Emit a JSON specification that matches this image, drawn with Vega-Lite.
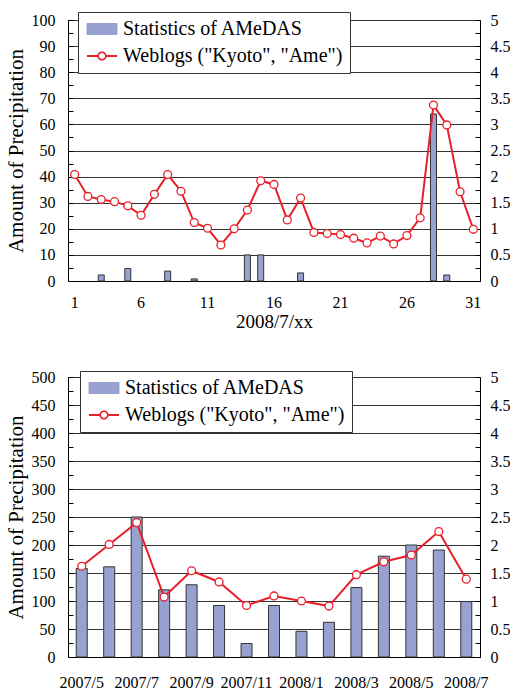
{
  "$schema": "https://vega.github.io/schema/vega-lite/v6.json",
  "padding": {"left": 5, "top": 11, "right": 0, "bottom": 0},
  "datasets": {
    "daily": [
      {"day": 1, "precip": null, "weblog": 2.04},
      {"day": 2, "precip": null, "weblog": 1.62},
      {"day": 3, "precip": 2.3, "weblog": 1.56},
      {"day": 4, "precip": null, "weblog": 1.52},
      {"day": 5, "precip": 4.8, "weblog": 1.44},
      {"day": 6, "precip": null, "weblog": 1.26},
      {"day": 7, "precip": null, "weblog": 1.66},
      {"day": 8, "precip": 3.8, "weblog": 2.04},
      {"day": 9, "precip": null, "weblog": 1.72},
      {"day": 10, "precip": 0.8, "weblog": 1.12},
      {"day": 11, "precip": null, "weblog": 1.01},
      {"day": 12, "precip": null, "weblog": 0.69},
      {"day": 13, "precip": null, "weblog": 1.0},
      {"day": 14, "precip": 10, "weblog": 1.36},
      {"day": 15, "precip": 10, "weblog": 1.92},
      {"day": 16, "precip": null, "weblog": 1.85},
      {"day": 17, "precip": null, "weblog": 1.17},
      {"day": 18, "precip": 3.1, "weblog": 1.59},
      {"day": 19, "precip": null, "weblog": 0.93},
      {"day": 20, "precip": null, "weblog": 0.91},
      {"day": 21, "precip": null, "weblog": 0.89},
      {"day": 22, "precip": null, "weblog": 0.82},
      {"day": 23, "precip": null, "weblog": 0.73},
      {"day": 24, "precip": null, "weblog": 0.86},
      {"day": 25, "precip": null, "weblog": 0.71},
      {"day": 26, "precip": null, "weblog": 0.87},
      {"day": 27, "precip": null, "weblog": 1.21},
      {"day": 28, "precip": 64, "weblog": 3.37},
      {"day": 29, "precip": 2.3, "weblog": 2.99},
      {"day": 30, "precip": null, "weblog": 1.71},
      {"day": 31, "precip": null, "weblog": 0.99}
    ],
    "monthly": [
      {"month": "2007/5", "precip": 158, "weblog": 1.62},
      {"month": "2007/6", "precip": 161, "weblog": 2.01},
      {"month": "2007/7", "precip": 250, "weblog": 2.40},
      {"month": "2007/8", "precip": 120, "weblog": 1.07},
      {"month": "2007/9", "precip": 129, "weblog": 1.54},
      {"month": "2007/10", "precip": 92, "weblog": 1.34},
      {"month": "2007/11", "precip": 24, "weblog": 0.92},
      {"month": "2007/12", "precip": 92, "weblog": 1.09},
      {"month": "2008/1", "precip": 46, "weblog": 1.00},
      {"month": "2008/2", "precip": 62, "weblog": 0.91},
      {"month": "2008/3", "precip": 124, "weblog": 1.47},
      {"month": "2008/4", "precip": 180, "weblog": 1.70},
      {"month": "2008/5", "precip": 200, "weblog": 1.82},
      {"month": "2008/6", "precip": 191, "weblog": 2.24},
      {"month": "2008/7", "precip": 99, "weblog": 1.39}
    ]
  },
  "spacing": 38,
  "resolve": {"scale": {"color": "independent"}, "legend": {"color": "independent"}},
  "vconcat": [
    {
      "width": 412,
      "height": 261,
      "data": {"name": "daily"},
      "layer": [
        {
          "mark": {"type": "bar", "size": 6, "stroke": "#333333", "strokeWidth": 1},
          "encoding": {
            "x": {"field": "day", "type": "ordinal", "scale": {"paddingInner": 0, "paddingOuter": 0},
              "axis": {"values": [1, 6, 11, 16, 21, 26, 31], "labelAngle": 0, "ticks": false, "labelPadding": 13, "title": "2008/7/xx", "titleFontSize": 19, "titlePadding": 2}},
            "y": {"field": "precip", "type": "quantitative", "scale": {"domain": [0, 100]},
              "axis": {"orient": "left", "values": [0,5,10,15,20,25,30,35,40,45,50,55,60,65,70,75,80,85,90,95,100],
                "labelExpr": "datum.value % 10 === 0 ? '' + datum.value : ''", "labelFlush": false,
                "tickSize": -5, "labelPadding": 18, "grid": true,
                "gridOpacity": {"condition": {"test": "datum.value % 10 === 0", "value": 1}, "value": 0},
                "title": "Amount of Precipitation", "titleFontSize": 21, "titlePadding": 5}},
            "color": {"datum": "Statistics of AMeDAS", "type": "nominal",
              "scale": {"domain": ["Statistics of AMeDAS", "Weblogs (\"Kyoto\", \"Ame\")"], "range": ["#98A2D0", "#E8202A"]},
              "legend": {"orient": "none", "legendX": 10, "legendY": -8,
                "encode": {"symbols": {"update": {
                  "shape": {"signal": "datum.value === 'Statistics of AMeDAS' ? 'M-1.5,-0.55H1.5V0.55H-1.5Z' : 'M-1.5,-0.09H-0.44V0.09H-1.5Z M0.44,-0.09H1.5V0.09H0.44Z M-0.46,0A0.46,0.46 0 1 1 0.46,0A0.46,0.46 0 1 1 -0.46,0Z M-0.3,0A0.3,0.3 0 1 0 0.3,0A0.3,0.3 0 1 0 -0.3,0Z'"},
                  "stroke": {"signal": "datum.value === 'Statistics of AMeDAS' ? '#333333' : '#E8202A'"},
                  "strokeWidth": {"signal": "datum.value === 'Statistics of AMeDAS' ? 1 : 0"},
                  "opacity": {"value": 1}, "fillOpacity": {"value": 1}, "strokeOpacity": {"value": 1}
                }}}}}
          }
        },
        {
          "encoding": {
            "x": {"field": "day", "type": "ordinal"},
            "y": {"field": "weblog", "type": "quantitative", "scale": {"domain": [0, 5]},
              "axis": {"orient": "right", "values": [0,0.25,0.5,0.75,1,1.25,1.5,1.75,2,2.25,2.5,2.75,3,3.25,3.5,3.75,4,4.25,4.5,4.75,5],
                "labelExpr": "datum.value % 0.5 === 0 ? '' + datum.value : ''", "labelFlush": false,
                "tickSize": -5, "labelPadding": 15, "grid": false, "title": null}}
          },
          "layer": [
            {
              "mark": {"type": "line", "strokeWidth": 2},
              "encoding": {"color": {"datum": "Weblogs (\"Kyoto\", \"Ame\")", "type": "nominal",
                "legend": {"orient": "none", "legendX": 10, "legendY": -8,
                "encode": {"symbols": {"update": {
                  "shape": {"signal": "datum.value === 'Statistics of AMeDAS' ? 'M-1.5,-0.55H1.5V0.55H-1.5Z' : 'M-1.5,-0.09H-0.44V0.09H-1.5Z M0.44,-0.09H1.5V0.09H0.44Z M-0.46,0A0.46,0.46 0 1 1 0.46,0A0.46,0.46 0 1 1 -0.46,0Z M-0.3,0A0.3,0.3 0 1 0 0.3,0A0.3,0.3 0 1 0 -0.3,0Z'"},
                  "stroke": {"signal": "datum.value === 'Statistics of AMeDAS' ? '#333333' : '#E8202A'"},
                  "strokeWidth": {"signal": "datum.value === 'Statistics of AMeDAS' ? 1 : 0"},
                  "opacity": {"value": 1}, "fillOpacity": {"value": 1}, "strokeOpacity": {"value": 1}
                }}}}}}
            },
            {
              "mark": {"type": "point", "shape": "circle", "filled": true, "fill": "white", "stroke": "#E8202A", "strokeWidth": 1.3, "size": 62, "opacity": 1},
              "encoding": {}
            }
          ]
        }
      ],
      "resolve": {"scale": {"y": "independent"}}
    },
    {
      "width": 412,
      "height": 280,
      "data": {"name": "monthly"},
      "layer": [
        {
          "mark": {"type": "bar", "size": 11, "stroke": "#333333", "strokeWidth": 1},
          "encoding": {
            "x": {"field": "month", "type": "ordinal", "sort": null, "scale": {"paddingInner": 0, "paddingOuter": 0},
              "axis": {"values": ["2007/5", "2007/7", "2007/9", "2007/11", "2008/1", "2008/3", "2008/5", "2008/7"], "labelAngle": 0, "ticks": false, "labelPadding": 17, "title": null}},
            "y": {"field": "precip", "type": "quantitative", "scale": {"domain": [0, 500]},
              "axis": {"orient": "left", "values": [0,25,50,75,100,125,150,175,200,225,250,275,300,325,350,375,400,425,450,475,500],
                "labelExpr": "datum.value % 50 === 0 ? '' + datum.value : ''", "labelFlush": false,
                "tickSize": -5, "labelPadding": 18, "grid": true,
                "gridOpacity": {"condition": {"test": "datum.value % 50 === 0", "value": 1}, "value": 0},
                "title": "Amount of Precipitation", "titleFontSize": 21, "titlePadding": 5}},
            "color": {"datum": "Statistics of AMeDAS", "type": "nominal",
              "scale": {"domain": ["Statistics of AMeDAS", "Weblogs (\"Kyoto\", \"Ame\")"], "range": ["#98A2D0", "#E8202A"]},
              "legend": {"orient": "none", "legendX": 12, "legendY": -6,
                "encode": {"symbols": {"update": {
                  "shape": {"signal": "datum.value === 'Statistics of AMeDAS' ? 'M-1.5,-0.55H1.5V0.55H-1.5Z' : 'M-1.5,-0.09H-0.44V0.09H-1.5Z M0.44,-0.09H1.5V0.09H0.44Z M-0.46,0A0.46,0.46 0 1 1 0.46,0A0.46,0.46 0 1 1 -0.46,0Z M-0.3,0A0.3,0.3 0 1 0 0.3,0A0.3,0.3 0 1 0 -0.3,0Z'"},
                  "stroke": {"signal": "datum.value === 'Statistics of AMeDAS' ? '#333333' : '#E8202A'"},
                  "strokeWidth": {"signal": "datum.value === 'Statistics of AMeDAS' ? 1 : 0"},
                  "opacity": {"value": 1}, "fillOpacity": {"value": 1}, "strokeOpacity": {"value": 1}
                }}}}}
          }
        },
        {
          "encoding": {
            "x": {"field": "month", "type": "ordinal", "sort": null},
            "y": {"field": "weblog", "type": "quantitative", "scale": {"domain": [0, 5]},
              "axis": {"orient": "right", "values": [0,0.25,0.5,0.75,1,1.25,1.5,1.75,2,2.25,2.5,2.75,3,3.25,3.5,3.75,4,4.25,4.5,4.75,5],
                "labelExpr": "datum.value % 0.5 === 0 ? '' + datum.value : ''", "labelFlush": false,
                "tickSize": -5, "labelPadding": 15, "grid": false, "title": null}}
          },
          "layer": [
            {
              "mark": {"type": "line", "strokeWidth": 2},
              "encoding": {"color": {"datum": "Weblogs (\"Kyoto\", \"Ame\")", "type": "nominal",
                "legend": {"orient": "none", "legendX": 12, "legendY": -6,
                "encode": {"symbols": {"update": {
                  "shape": {"signal": "datum.value === 'Statistics of AMeDAS' ? 'M-1.5,-0.55H1.5V0.55H-1.5Z' : 'M-1.5,-0.09H-0.44V0.09H-1.5Z M0.44,-0.09H1.5V0.09H0.44Z M-0.46,0A0.46,0.46 0 1 1 0.46,0A0.46,0.46 0 1 1 -0.46,0Z M-0.3,0A0.3,0.3 0 1 0 0.3,0A0.3,0.3 0 1 0 -0.3,0Z'"},
                  "stroke": {"signal": "datum.value === 'Statistics of AMeDAS' ? '#333333' : '#E8202A'"},
                  "strokeWidth": {"signal": "datum.value === 'Statistics of AMeDAS' ? 1 : 0"},
                  "opacity": {"value": 1}, "fillOpacity": {"value": 1}, "strokeOpacity": {"value": 1}
                }}}}}}
            },
            {
              "mark": {"type": "point", "shape": "circle", "filled": true, "fill": "white", "stroke": "#E8202A", "strokeWidth": 1.3, "size": 62, "opacity": 1},
              "encoding": {}
            }
          ]
        }
      ],
      "resolve": {"scale": {"y": "independent"}}
    }
  ],
  "config": {
    "font": "Liberation Serif",
    "view": {"stroke": null},
    "axis": {
      "labelFont": "Liberation Serif", "labelFontSize": 16, "labelColor": "black",
      "titleFont": "Liberation Serif", "titleFontWeight": "normal", "titleColor": "black",
      "domainColor": "black", "domainWidth": 1, "tickColor": "black", "tickWidth": 1,
      "gridColor": "#333333", "gridWidth": 1.2
    },
    "legend": {
      "title": null,
      "labelFont": "Liberation Serif", "labelFontSize": 20, "labelColor": "black", "labelLimit": 400,
      "fillColor": "white", "strokeColor": "#333333", "padding": 7, "rowPadding": 7,
      "symbolSize": 400, "symbolOffset": 7, "labelOffset": 11
    }
  }
}
